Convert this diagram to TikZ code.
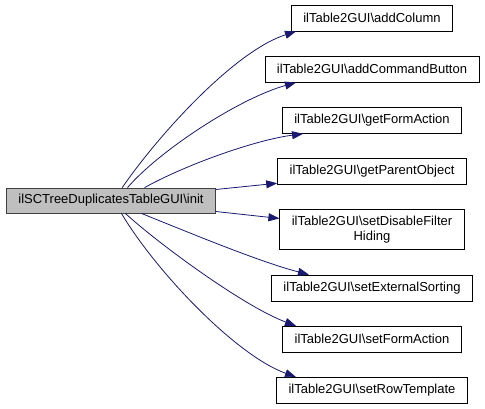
\documentclass[tikz,border=0pt]{standalone}
\usepackage{fontspec}
\setmainfont{Liberation Sans}
\usepackage{tikz}
\usetikzlibrary{arrows.meta,positioning}
\definecolor{azulnoche}{rgb}{0.10,0.10,0.44}
\definecolor{grismedio}{rgb}{0.75,0.75,0.75}
\tikzset{
  funcion/.style={
    draw=black,
    fill=white,
    line width=0.8pt,
    align=center,
    inner xsep=12pt,
    inner ysep=3pt,
    minimum height=26pt,
    font=\fontsize{13}{15}\selectfont
  },
  raiz/.style={
    funcion,
    fill=grismedio,
    draw=black!75,
    minimum height=25pt
  },
  llamada/.style={
    -{Triangle[length=11pt,width=8pt]},
    line width=0.8pt,
    azulnoche
  }
}

\begin{document}
\begin{tikzpicture}[x=1pt,y=-1pt,node distance=24.4pt]
\useasboundingbox (0,0) rectangle (485,408);
\node[raiz] (init) at (111,200.5) {ilSCTreeDuplicatesTableGUI\textbackslash init};
\node[funcion] (addcol) at (372,18) {ilTable2GUI\textbackslash addColumn};
\node[funcion,below=of addcol] (addbtn) {ilTable2GUI\textbackslash addCommandButton};
\node[funcion,below=of addbtn] (getform) {ilTable2GUI\textbackslash getFormAction};
\node[funcion,below=of getform] (getparent) {ilTable2GUI\textbackslash getParentObject};
\node[funcion,below=of getparent,minimum height=40pt] (setdisable) {ilTable2GUI\textbackslash setDisableFilter\\Hiding};
\node[funcion,below=of setdisable] (setext) {ilTable2GUI\textbackslash setExternalSorting};
\node[funcion,below=of setext] (setform) {ilTable2GUI\textbackslash setFormAction};
\node[funcion,below=of setform] (setrow) {ilTable2GUI\textbackslash setRowTemplate};

% llamadas desde init
\draw[llamada] (init.49) .. controls (160,133) and (235,51) .. (addcol.190);
\draw[llamada] (init.38) .. controls (160,150) and (240,98) .. (addbtn.190);
\draw[llamada] (init.21) .. controls (185,165) and (255,140) .. (getform.191);
\draw[llamada] (init.6) -- (getparent.187);
\draw[llamada] (init.-6) -- (setdisable.173);
\draw[llamada] (init.-23) .. controls (190,233) and (260,262) .. (setext.168);
\draw[llamada] (init.-42) .. controls (160,245) and (245,307) .. (setform.170);
\draw[llamada] (init.-51) .. controls (155,270) and (235,355) .. (setrow.170);
\end{tikzpicture}
\end{document}
